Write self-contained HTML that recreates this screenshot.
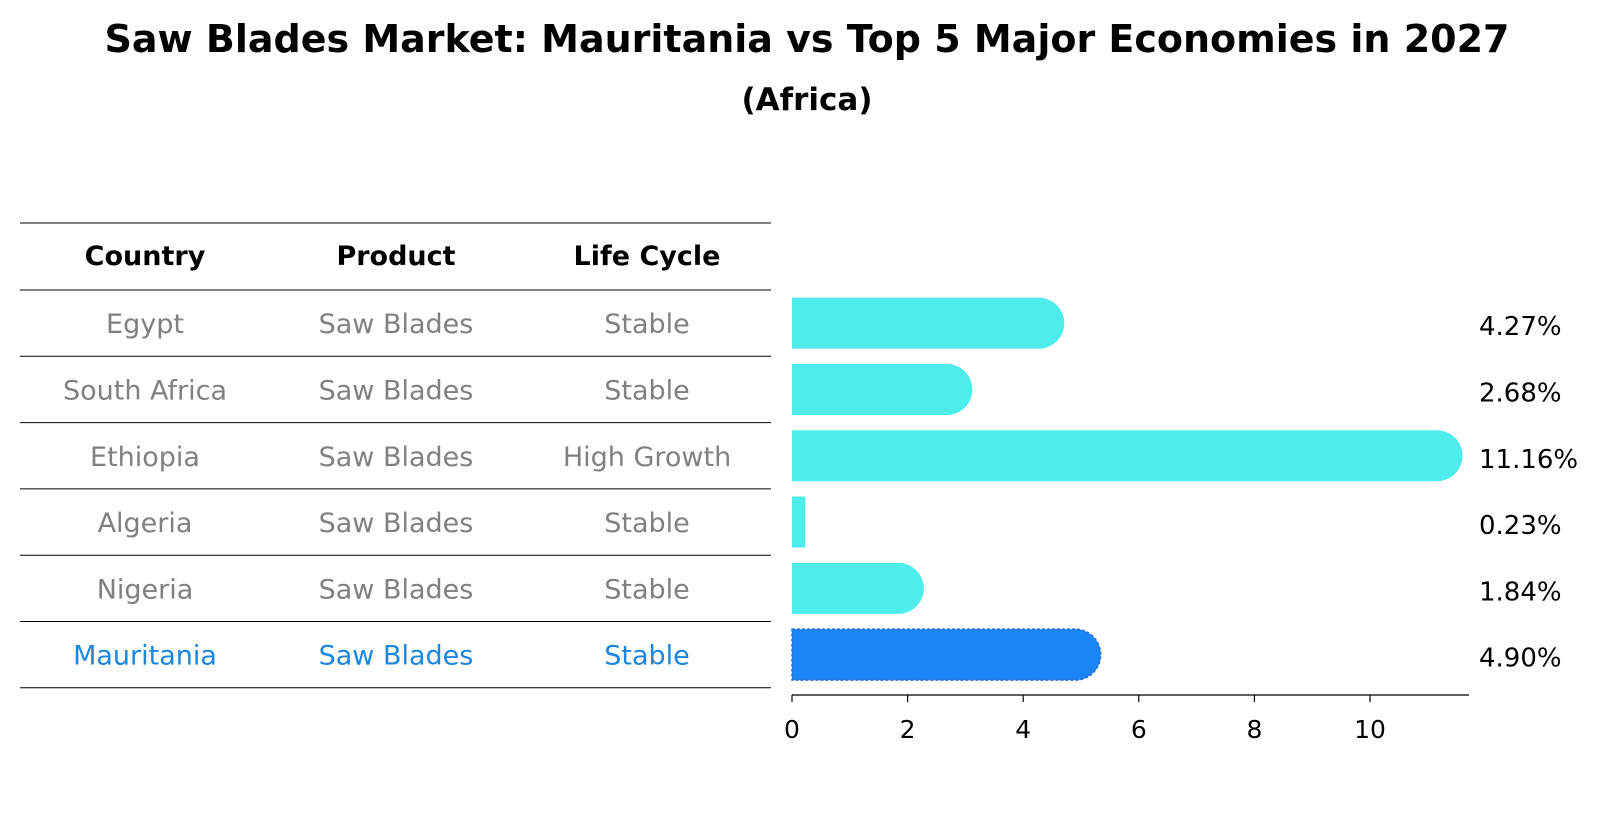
<!DOCTYPE html>
<html><head><meta charset="utf-8"><style>
body{margin:0;background:#fff;font-family:"Liberation Sans","DejaVu Sans",sans-serif}
</style></head><body>
<svg id="c" width="1604" height="823" xmlns="http://www.w3.org/2000/svg" font-family="DejaVu Sans, Liberation Sans, sans-serif">
<text x="807" y="52" text-anchor="middle" font-size="38" font-weight="bold">Saw Blades Market: Mauritania vs Top 5 Major Economies in 2027</text>
<text x="807" y="110" text-anchor="middle" font-size="31" font-weight="bold">(Africa)</text>
<g id="tbl"></g>
<g id="bars"></g>
</svg>
<script>
const countries=["Egypt","South Africa","Ethiopia","Algeria","Nigeria","Mauritania"];
const products=["Saw Blades","Saw Blades","Saw Blades","Saw Blades","Saw Blades","Saw Blades"];
const lifeCycles=["Stable","Stable","High Growth","Stable","Stable","Stable"];
const values=[4.27,2.68,11.16,0.23,1.84,4.90];
const xTicks=[0,2,4,6,8,10];
const NS="http://www.w3.org/2000/svg";
function mk(t,a,p){const e=document.createElementNS(NS,t);for(const k in a)e.setAttribute(k,a[k]);p.appendChild(e);return e;}
const x0=792, pxPer=57.8;
function xs(v){return x0+v*pxPer;}
const rowTop=290,rowH=66.3;
function yc(i){return rowTop+rowH*(i+0.5);}
const tbl=document.getElementById('tbl'),bars=document.getElementById('bars');
const cols=[145,396,647];
const hdr=["Country","Product","Life Cycle"];
let l=mk('line',{x1:20,x2:771,y1:223,y2:223,stroke:'#000','stroke-width':1},tbl);


hdr.forEach((h,j)=>{const t=mk('text',{x:cols[j],y:265,'text-anchor':'middle','font-size':27,'font-weight':'bold'},tbl);t.textContent=h;

});
for(let i=0;i<=countries.length;i++){const y=rowTop+rowH*i;const r=mk('line',{x1:20,x2:771,y1:y,y2:y,stroke:'#000','stroke-width':1},tbl);

}
countries.forEach((c,i)=>{const col=i===countries.length-1?'#1a86e0':'#808080';
[c,products[i],lifeCycles[i]].forEach((v,j)=>{const t=mk('text',{x:cols[j],y:yc(i)+10,'text-anchor':'middle','font-size':27,fill:col},tbl);t.textContent=v;

});});
const bh=51,r=bh/2;
values.forEach((v,i)=>{const hi=i===values.length-1;const col=hi?'#1a86f5':'#4eecea';
const y=yc(i)-bh/2;const xe=xs(v);
let d;
if(v>0.5){d=`M${x0},${y} H${xe} A${r},${r} 0 0 1 ${xe},${y+bh} H${x0} Z`;}
else{d=`M${x0},${y} H${xe} V${y+bh} H${x0} Z`;}
const p=mk('path',{d:d,fill:col},bars);
if(hi){p.setAttribute('stroke','#2a6fd0');p.setAttribute('stroke-width','1.5');p.setAttribute('stroke-dasharray','3,2');}


const t=mk('text',{x:1479,y:yc(i)+12,'font-size':26},bars);t.textContent=v.toFixed(2)+'%';

});
const ax=mk('line',{x1:x0,x2:1469,y1:695,y2:695,stroke:'#000','stroke-width':1.3},bars);


xTicks.forEach(v=>{const tk=mk('line',{x1:xs(v),x2:xs(v),y1:695,y2:702,stroke:'#000','stroke-width':1.2},bars);


const t=mk('text',{x:xs(v),y:738,'text-anchor':'middle','font-size':25},bars);t.textContent=v;

});
</script>
</body></html>
